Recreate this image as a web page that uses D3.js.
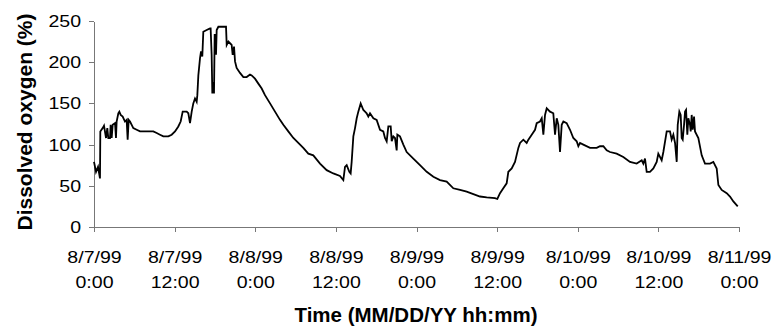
<!DOCTYPE html>
<html>
<head>
<meta charset="utf-8">
<script src="https://cdn.jsdelivr.net/npm/d3@7"></script>
<style>
body { margin: 0; background: #fff; }
text { font-family: "Liberation Sans", Arial, sans-serif; fill: #000; }
</style>
</head>
<body>
<svg id="chart" width="776" height="329"></svg>
<script>
// hours since 8/7/99 0:00
var hours = [0, 0.30, 0.60, 0.89, 0.94, 1.29, 1.49, 1.79, 1.98, 2.13, 2.38, 2.48, 2.63, 2.78, 3.13, 3.27, 3.37, 3.62, 3.77, 3.97,
  4.27, 4.61, 4.86, 5.01, 5.16, 5.36, 5.61, 5.85, 6.35, 6.85, 7.84, 8.83, 9.33, 9.82, 10.32, 11.06, 11.56, 12.06, 12.55, 12.90,
  13.20, 13.80, 14.04, 14.29, 14.54, 14.78, 15.03, 15.28, 15.38, 15.53, 15.78, 15.93, 16.12, 16.27, 16.77, 17.27, 17.36, 17.51, 17.61, 17.76,
  17.86, 17.96, 18.11, 18.16, 18.26, 18.51, 19.65, 19.75, 20.00, 20.24, 20.49, 20.64, 20.84, 20.99, 21.23, 21.73, 22.23, 22.72, 23.22, 23.47,
  23.96, 24.46, 24.96, 25.45, 26.20, 26.94, 27.68, 28.18, 28.92, 29.67, 30.41, 31.15, 31.90, 32.64, 33.64, 34.63, 35.62, 36.61, 37.11, 37.36,
  37.61, 38.00, 38.20, 38.35, 38.60, 38.85, 39.10, 39.34, 39.69, 40.09, 40.34, 40.58, 40.83, 41.08, 41.58, 42.07, 42.57, 43.06, 43.31, 43.56,
  43.81, 44.16, 44.31, 44.55, 44.80, 45.05, 45.15, 45.54, 46.04, 46.54, 47.53, 48.52, 49.52, 50.51, 51.50, 52.49, 53.48, 54.48, 55.47, 56.46,
  57.45, 58.45, 59.68, 60.03, 60.43, 60.92, 61.42, 61.67, 62.17, 62.66, 63.16, 63.41, 63.90, 64.40, 64.65, 65.15, 65.64, 65.89, 66.38, 66.64,
  66.88, 67.13, 67.38, 67.87, 68.36, 68.62, 68.87, 69.11, 69.36, 69.61, 69.86, 70.35, 70.85, 71.34, 71.84, 72.09, 72.34, 72.83, 73.83, 74.82,
  75.31, 75.81, 76.31, 76.80, 77.79, 78.78, 79.78, 80.77, 81.52, 81.76, 82.01, 82.26, 82.75, 83.25, 83.75, 83.99, 84.49, 84.74, 85.24, 85.73,
  85.98, 86.23, 86.48, 86.73, 86.88, 87.12, 87.32, 87.47, 87.62, 87.82, 87.97, 88.12, 88.31, 88.46, 88.71, 88.81, 88.96, 89.11, 89.31, 89.45,
  89.95, 90.45, 90.94, 91.69, 92.18, 92.68, 92.93, 93.42, 94.17, 94.66, 95.16, 95.81];

// dissolved oxygen (%)
var oxygen = [79, 67, 73, 59, 116, 120, 123, 108, 120, 108, 108, 124, 108, 124, 126, 108, 128, 138, 140, 136,
  134, 128, 130, 106, 130, 128, 124, 120, 118, 116, 116, 116, 114, 112, 110, 110, 112, 116, 122, 128,
  140, 140, 138, 126, 140, 150, 156, 152, 160, 184, 205, 213, 207, 237, 239, 241, 241, 209, 162, 176,
  162, 233, 233, 209, 239, 243, 243, 221, 225, 223, 221, 209, 219, 201, 193, 187, 182, 182, 185, 184,
  180, 174, 168, 160, 150, 140, 130, 124, 116, 108, 102, 96, 89, 87, 77, 69, 65, 62, 57, 73,
  75, 67, 65, 79, 110, 120, 132, 140, 150, 142, 140, 138, 134, 138, 132, 130, 118, 116, 108, 104,
  122, 122, 104, 110, 108, 93, 112, 110, 100, 91, 83, 75, 67, 61, 57, 55, 47, 45, 43, 40,
  37, 36, 35, 34, 41, 47, 53, 67, 71, 79, 96, 102, 106, 102, 106, 112, 118, 126, 128, 132,
  112, 136, 144, 140, 138, 112, 132, 124, 91, 124, 128, 126, 118, 108, 104, 98, 102, 100, 96, 96,
  98, 98, 93, 91, 89, 85, 79, 77, 81, 77, 83, 67, 67, 71, 79, 89, 81, 91, 116, 116,
  106, 112, 102, 79, 124, 140, 136, 108, 106, 124, 140, 142, 112, 132, 124, 116, 136, 118, 134, 116,
  108, 87, 77, 77, 79, 71, 51, 45, 41, 37, 31, 25];

var tickDates = ["8/7/99", "8/7/99", "8/8/99", "8/8/99", "8/9/99", "8/9/99", "8/10/99", "8/10/99", "8/11/99"];
var tickTimes = ["0:00", "12:00", "0:00", "12:00", "0:00", "12:00", "0:00", "12:00", "0:00"];
var yTicks = [0, 50, 100, 150, 200, 250];

function vis_oxygen() {
var svg = d3.select("#chart");

var start = new Date(1999, 7, 7, 0, 0);

var x = d3.scaleTime()
    .domain([start, d3.timeHour.offset(start, 96)])
    .range([94, 739]);

var y = d3.scaleLinear()
    .domain([0, 250])
    .range([227, 21]);

var data = hours.map(function(h, i) {
  return { t: new Date(start.getTime() + h * 3600000), v: oxygen[i] };
});

// y axis
var yAxis = svg.append("g")
    .attr("transform", "translate(94,0)")
    .call(d3.axisLeft(y).tickValues(yTicks).tickSize(5).tickSizeOuter(0));

yAxis.selectAll(".tick text")
    .attr("x", 0)
    .attr("transform", "translate(-13,0) scale(1.15,1)")
    .attr("font-size", 17);

// x axis
var xAxis = svg.append("g")
    .attr("transform", "translate(0,227)")
    .call(d3.axisBottom(x)
      .tickValues(tickDates.map(function(d, i) { return d3.timeHour.offset(start, 12 * i); }))
      .tickSize(5).tickSizeOuter(0).tickFormat(""));

xAxis.selectAll(".tick text").remove();
xAxis.selectAll(".tick").each(function(d, i) {
  var t = d3.select(this).append("text")
      .attr("text-anchor", "middle")
      .attr("font-size", 17)
      .attr("transform", "scale(1.15,1)");
  t.append("tspan").attr("x", 0).attr("y", 36).text(tickDates[i]);
  t.append("tspan").attr("x", 0).attr("y", 61).text(tickTimes[i]);
});

svg.selectAll(".domain, .tick line")
    .attr("stroke", "#777")
    .attr("shape-rendering", "crispEdges");
xAxis.attr("font-family", null);
yAxis.attr("font-family", null);

// the line
svg.append("path")
    .datum(data)
    .attr("fill", "none")
    .attr("stroke", "#000")
    .attr("stroke-width", 1.8)
    .attr("d", d3.line()
      .x(function(d) { return x(d.t); })
      .y(function(d) { return y(d.v); }));

// axis titles
svg.append("text")
    .attr("x", 416)
    .attr("y", 322)
    .attr("text-anchor", "middle")
    .attr("font-size", 20.5)
    .attr("font-weight", "bold")
    .text("Time (MM/DD/YY hh:mm)");

svg.append("text")
    .attr("transform", "translate(32,122) rotate(-90)")
    .attr("text-anchor", "middle")
    .attr("font-size", 21)
    .attr("font-weight", "bold")
    .text("Dissolved oxygen (%)");

} // end vis_oxygen

vis_oxygen();
</script>
</body>
</html>
